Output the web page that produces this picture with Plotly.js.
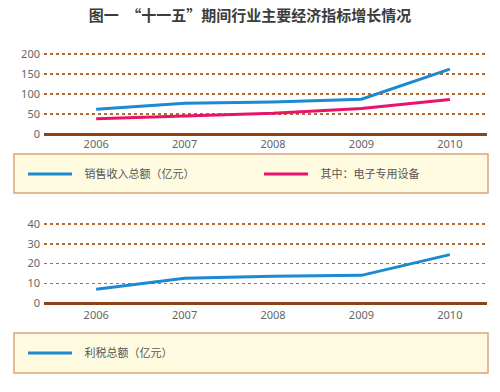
<!DOCTYPE html>
<html>
<head>
<meta charset="utf-8">
<script src="https://cdn.plot.ly/plotly-3.0.1.min.js"></script>
<style>html,body{margin:0;padding:0;background:#fff;}#chart{width:500px;height:392px;}</style>
</head>
<body>
<div id="chart"></div>
<script>
const years = [2006, 2007, 2008, 2009, 2010];
const salesRevenue = [62, 77, 80, 87, 162];
const electronicsEquipment = [38, 45, 52, 64, 86];
const profitTax = [7, 12.5, 13.5, 14, 24.5];
const topYTicks = [0, 50, 100, 150, 200];
const bottomYTicks = [0, 10, 20, 30, 40];
const seriesNames = ['销售收入总额（亿元）', '其中：电子专用设备', '利税总额（亿元）'];
const titleText = '图一　“十一五”期间行业主要经济指标增长情况';

const H = 392, L = 44, R = 13, W = 500 - L - R;
const px2x = p => (p - L) / W;
const py2y = p => (H - p) / H;
const pad = s => '\u00a0\u00a0\u00a0' + s;

const blue = '#1b8ad3', pink = '#e8136b';
const gridColor = '#b8692e', baseColor = '#8e4412';
const tickFont = {family: 'Noto Sans, DejaVu Sans, sans-serif', size: 11, color: '#666'};
const cjk = 'Noto Sans CJK SC, sans-serif';

const traces = [
  {x: years, y: salesRevenue, name: pad(seriesNames[0]), type: 'scatter', mode: 'lines',
   line: {color: blue, width: 3}, xaxis: 'x', yaxis: 'y', legend: 'legend'},
  {x: years, y: electronicsEquipment, name: pad(seriesNames[1]), type: 'scatter', mode: 'lines',
   line: {color: pink, width: 3}, xaxis: 'x', yaxis: 'y', legend: 'legend3'},
  {x: years, y: profitTax, name: pad(seriesNames[2]), type: 'scatter', mode: 'lines',
   line: {color: blue, width: 3}, xaxis: 'x2', yaxis: 'y2', legend: 'legend2'}
];

const xCommon = {
  range: [2005.41, 2010.42], tickvals: years, ticktext: years.map(String),
  showgrid: false, zeroline: false, showline: false, ticks: '', tickfont: tickFont,
  fixedrange: true
};
const yCommon = {
  showgrid: true, gridcolor: gridColor, gridwidth: 1.5, griddash: 'dot',
  zeroline: true, zerolinecolor: baseColor, zerolinewidth: 3,
  showline: false, ticks: '', tickfont: tickFont, fixedrange: true, ticklabelstandoff: 3
};
const legendCommon = {orientation: 'h', xanchor: 'left', yanchor: 'middle',
  bgcolor: 'rgba(0,0,0,0)', borderwidth: 0, itemwidth: 44,
  font: {family: cjk, size: 11, color: '#555'}, itemclick: false, itemdoubleclick: false};

const layout = {
  width: 500, height: 392,
  margin: {l: L, r: R, t: 0, b: 0},
  paper_bgcolor: '#fff', plot_bgcolor: 'rgba(0,0,0,0)',
  showlegend: true,
  title: {text: titleText, xref: 'container', x: 0.5, xanchor: 'center',
          yref: 'container', y: 1 - 16 / H, yanchor: 'middle',
          font: {family: cjk, size: 15, color: '#3c3c3c', weight: 'bold'}},
  xaxis: Object.assign({}, xCommon, {anchor: 'y', domain: [0, 1]}),
  yaxis: Object.assign({}, yCommon, {anchor: 'x', range: [-4, 204], tickvals: topYTicks,
          domain: [py2y(135.6), py2y(52.4)]}),
  xaxis2: Object.assign({}, xCommon, {anchor: 'y2', domain: [0, 1]}),
  yaxis2: Object.assign({}, yCommon, {anchor: 'x2', range: [-2, 42], tickvals: bottomYTicks,
          domain: [py2y(306.95), py2y(220.05)]}),
  shapes: [
    {type: 'rect', xref: 'paper', yref: 'paper', x0: px2x(14), x1: px2x(488), y0: py2y(193), y1: py2y(154),
     fillcolor: '#fffbe0', line: {color: '#d9a57a', width: 1.5}, layer: 'below'},
    {type: 'rect', xref: 'paper', yref: 'paper', x0: px2x(14), x1: px2x(488), y0: py2y(373), y1: py2y(333),
     fillcolor: '#fffbe0', line: {color: '#d9a57a', width: 1.5}, layer: 'below'}
  ],
  legend: Object.assign({}, legendCommon, {x: px2x(23), y: py2y(174)}),
  legend3: Object.assign({}, legendCommon, {x: px2x(259), y: py2y(174)}),
  legend2: Object.assign({}, legendCommon, {x: px2x(23), y: py2y(353)})
};

Plotly.newPlot('chart', traces, layout, {displayModeBar: false, staticPlot: true});
</script>
</body>
</html>
